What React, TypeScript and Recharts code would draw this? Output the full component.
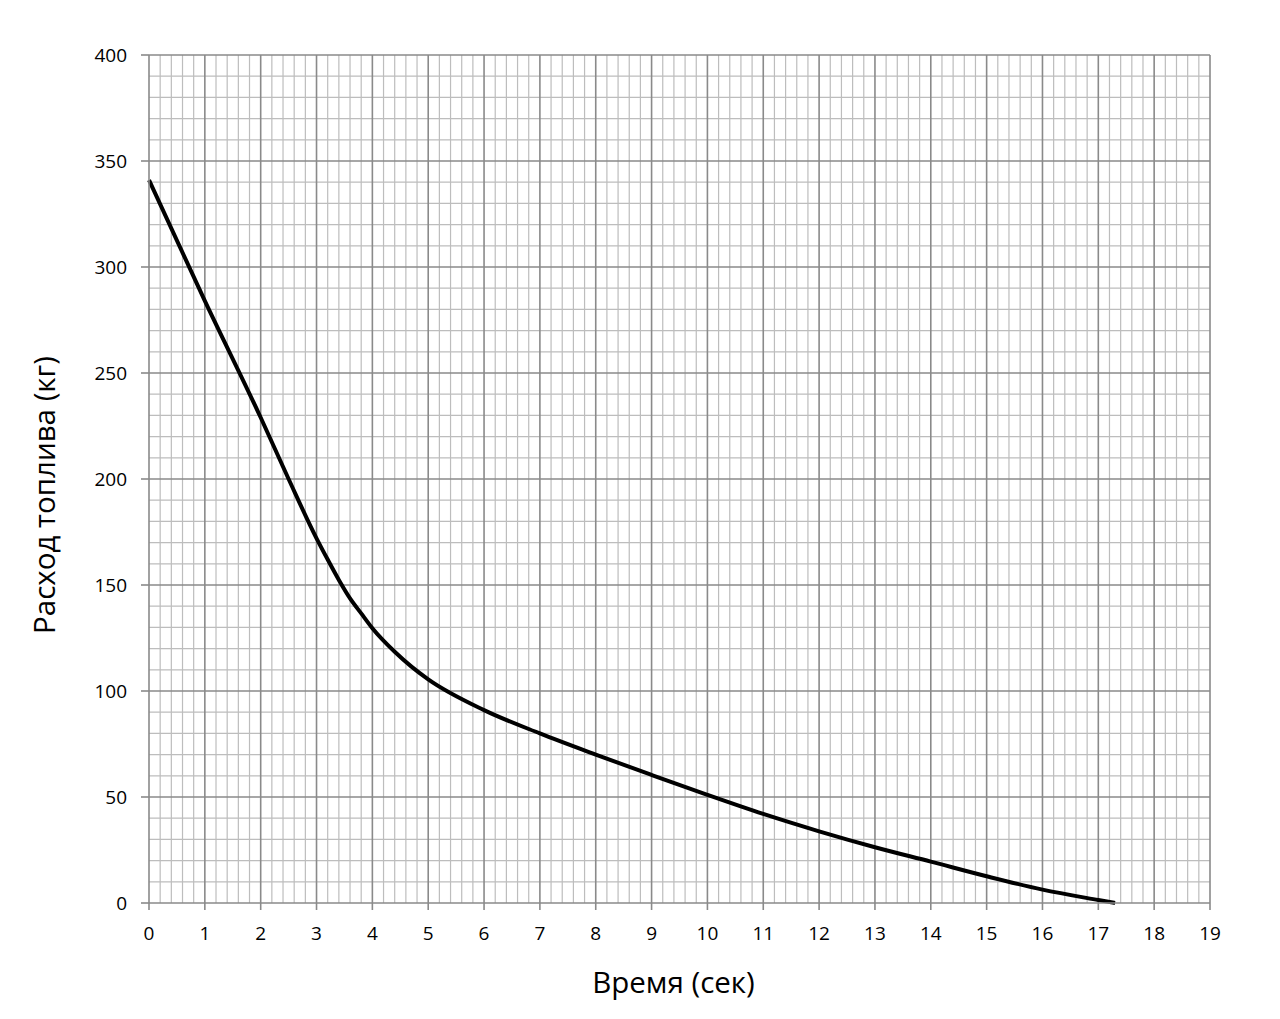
import { LineChart, Line, XAxis, YAxis, ReferenceLine, Label } from 'recharts';

// время (сек)
const timeSec = [0, 1, 2, 2.5, 3, 3.2, 3.4, 3.6, 3.8, 4, 4.4, 4.7, 5, 6, 7, 8, 9, 10, 11, 12, 13, 14, 15, 16, 17, 17.3];
// расход топлива (кг)
const fuelKg = [341, 284, 229, 200, 172, 162, 152.4, 143.7, 136.6, 129.6, 118.5, 111.5, 105.5, 91, 80, 70, 60.4, 51, 42, 33.8, 26.3, 19.5, 12.6, 6.3, 1.4, 0];

const xTicks = [0, 1, 2, 3, 4, 5, 6, 7, 8, 9, 10, 11, 12, 13, 14, 15, 16, 17, 18, 19];
const yTicks = [0, 50, 100, 150, 200, 250, 300, 350, 400];

// minor grid: every 0.2 s and every 10 kg
const xMinor = Array.from({ length: 95 }, (_, i) => Math.round((i + 1) * 2) / 10).filter(v => !Number.isInteger(v));
const yMinor = Array.from({ length: 40 }, (_, i) => (i + 1) * 10).filter(v => v % 50 !== 0);

const font = '"Open Sans", "Noto Sans", sans-serif';
const minorColor = '#bdbdbd';
const majorColor = '#8a8a8a';

function YTitle(props: any) {
  const vb = props.viewBox || {};
  const x = vb.x - 26;
  const y = vb.y + vb.height / 2 + 16;
  return (
    <text
      x={x}
      y={y}
      transform={`rotate(-90, ${x}, ${y})`}
      textAnchor="middle"
      dominantBaseline="central"
      fill="#000"
      fontSize={29.5}
      fontFamily={font}
    >
      Расход топлива (кг)
    </text>
  );
}

function XTitle(props: any) {
  const vb = props.viewBox || {};
  return (
    <text
      x={vb.x + vb.width / 2 - 6}
      y={vb.y + 78}
      textAnchor="middle"
      dominantBaseline="central"
      fill="#000"
      fontSize={29.5}
      fontFamily={font}
    >
      Время (сек)
    </text>
  );
}

export default function App() {
  const data = timeSec.map((t, i) => ({ t, fuel: fuelKg[i] }));

  return (
    <div style={{ width: 1264, height: 1003, fontFamily: font }}>
      <LineChart width={1264} height={1003} data={data} margin={{ top: 47, right: 62, left: 61, bottom: 68 }}>
        {xMinor.map(v => (
          <ReferenceLine key={'xm' + v} x={v} stroke={minorColor} strokeWidth={1.2} />
        ))}
        {yMinor.map(v => (
          <ReferenceLine key={'ym' + v} y={v} stroke={minorColor} strokeWidth={1.2} />
        ))}
        {xTicks.slice(1).map(v => (
          <ReferenceLine key={'xM' + v} x={v} stroke={majorColor} strokeWidth={1.6} />
        ))}
        {yTicks.slice(1).map(v => (
          <ReferenceLine key={'yM' + v} y={v} stroke={majorColor} strokeWidth={1.6} />
        ))}
        <XAxis
          dataKey="t"
          type="number"
          domain={[0, 19]}
          ticks={xTicks}
          interval={0}
          height={40}
          stroke={majorColor}
          strokeWidth={1.6}
          tickSize={7}
          tickMargin={17}
          tick={{ fill: '#000', fontSize: 19, fontFamily: font }}
        >
          <Label content={XTitle} />
        </XAxis>
        <YAxis
          type="number"
          domain={[0, 400]}
          ticks={yTicks}
          interval={0}
          width={80}
          stroke={majorColor}
          strokeWidth={1.6}
          tickSize={8}
          tickMargin={14}
          tick={{ fill: '#000', fontSize: 19, fontFamily: font }}
        >
          <Label content={YTitle} />
        </YAxis>
        <Line
          type="monotone"
          dataKey="fuel"
          stroke="#000"
          strokeWidth={4}
          dot={false}
          isAnimationActive={false}
        />
      </LineChart>
    </div>
  );
}
